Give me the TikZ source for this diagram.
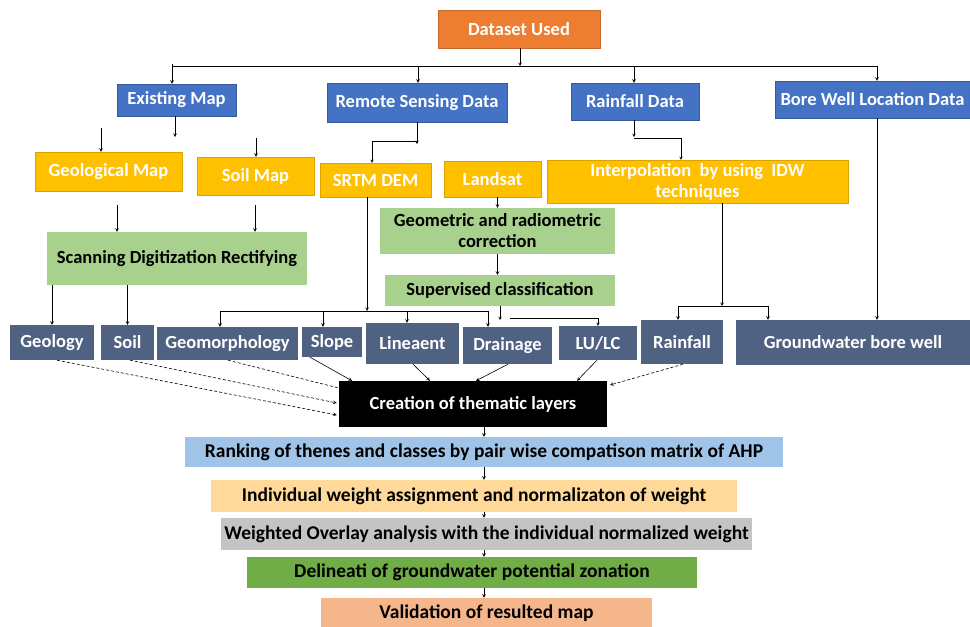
\documentclass[tikz,border=0pt]{standalone}
\usepackage{fontspec}
\setmainfont{Carlito}
\usepackage{tikz}
\usetikzlibrary{arrows, positioning, calc}
\usepackage{xcolor}
\definecolor{dsorange}{RGB}{237,125,49}
\definecolor{dsblue}{RGB}{68,114,196}
\definecolor{dsyellow}{RGB}{255,192,0}
\definecolor{dsgreen}{RGB}{169,209,142}
\definecolor{dsslate}{RGB}{79,98,130}
\definecolor{dslblue}{RGB}{160,196,232}
\definecolor{dspeach}{RGB}{255,217,153}
\definecolor{dsgray}{RGB}{196,196,196}
\definecolor{dsdgreen}{RGB}{112,173,71}
\definecolor{dssalmon}{RGB}{246,182,140}
\tikzstyle{box} = [rectangle, inner sep=2pt, align=center, font=\fontsize{18.5}{21}\selectfont\bfseries]
\tikzstyle{top} = [box, fill=dsorange, draw=dsorange!85!black, text=white]
\tikzstyle{src} = [box, fill=dsblue, draw=dsblue!80!black, text=white]
\tikzstyle{inp} = [box, fill=dsyellow, draw=dsyellow!85!black, text=white]
\tikzstyle{proc} = [box, fill=dsgreen, text=black]
\tikzstyle{layer} = [box, fill=dsslate, text=white]
\tikzstyle{step1} = [box, text=black, font=\fontsize{19.5}{22}\selectfont\bfseries]
\tikzstyle{arrow} = [line width=0.6pt, ->, >=stealth]
\tikzstyle{darrow} = [arrow, densely dashed]

\begin{document}
\begin{tikzpicture}[x=1pt, y=-1pt]
    \useasboundingbox (0,0) rectangle (970,627);
    % Nodes
    \node (ds) [top, minimum width=162pt, minimum height=38pt] at (519,29) {Dataset Used};

    \node (exist) [src, minimum width=119pt, minimum height=32pt] at (176.5,100) {Existing Map};
    \node (rs) [src, minimum width=180pt, minimum height=39pt] at (417,102.5) {Remote Sensing Data};
    \node (rain) [src, minimum width=128pt, minimum height=37pt] at (635,101.5) {Rainfall Data};
    \node (bore) [src, minimum width=195pt, minimum height=37pt] at (872.5,99.5) {Bore Well Location Data};

    \node (geomap) [inp, minimum width=147pt, minimum height=39pt] at (108.5,171.5) {Geological Map};
    \node (soilmap) [inp, minimum width=117pt, minimum height=38pt] at (255.5,176) {Soil Map};
    \node (srtm) [inp, minimum width=111pt, minimum height=34pt] at (375.5,180) {SRTM DEM};
    \node (land) [inp, minimum width=97pt, minimum height=36pt] at (492.5,179) {Landsat};
    \node (idw) [inp, minimum width=301pt, minimum height=43pt] at (697.5,181.5) {Interpolation~ by using~ IDW\\techniques};

    \node (geom) [proc, minimum width=235pt, minimum height=46pt] at (497.5,231) {Geometric and radiometric\\correction};
    \node (sup) [proc, minimum width=230pt, minimum height=31pt] at (500,290.5) {Supervised classification};
    \node (scan) [proc, minimum width=260pt, minimum height=53pt] at (177,258.5) {Scanning Digitization Rectifying};

    \node (geology) [layer, minimum width=84pt, minimum height=35pt] at (52,342.5) {Geology};
    \node (soil) [layer, minimum width=53pt, minimum height=35pt] at (127.5,342.5) {Soil};
    \node (geomor) [layer, minimum width=141pt, minimum height=33pt] at (227.5,343.5) {Geomorphology};
    \node (slope) [layer, minimum width=60pt, minimum height=30pt] at (332,342) {Slope};
    \node (linea) [layer, minimum width=93pt, minimum height=41pt] at (412.5,343.5) {Lineaent};
    \node (drain) [layer, minimum width=89pt, minimum height=37pt] at (507.5,345.5) {Drainage};
    \node (lulc) [layer, minimum width=78pt, minimum height=34pt] at (598,343) {LU/LC};
    \node (rainl) [layer, minimum width=82pt, minimum height=44pt] at (682,342) {Rainfall};
    \node (gw) [layer, minimum width=234pt, minimum height=45pt] at (853,342.5) {Groundwater bore well};

    \node (create) [box, fill=black, text=white, minimum width=268pt, minimum height=46pt] at (473,404) {Creation of thematic layers};

    \node (rank) [step1, fill=dslblue, minimum width=598pt, minimum height=30pt] at (484,452) {Ranking of thenes and classes by pair wise compatison matrix of AHP};
    \node (indiv) [step1, fill=dspeach, minimum width=526pt, minimum height=32pt] at (474,496) {Individual weight assignment and normalizaton of weight};
    \node (wov) [step1, fill=dsgray, minimum width=531pt, minimum height=32pt] at (486.5,534) {Weighted Overlay analysis with the individual normalized weight};
    \node (delin) [step1, fill=dsdgreen, minimum width=450pt, minimum height=31pt] at (472,572.5) {Delineati of groundwater potential zonation};
    \node (valid) [step1, fill=dssalmon, minimum width=331pt, minimum height=30pt] at (486.5,613) {Validation of resulted map};

    % Joints
    \coordinate (bus) at (520,66);
    \coordinate (e1) at (101,128);
    \coordinate (e2) at (175,137);
    \coordinate (e3) at (256,138);
    \coordinate (rsj) at (417,141);
    \coordinate (rj) at (681,138);
    \coordinate (g1) at (117,205);
    \coordinate (s1) at (255,205);
    \coordinate (sj) at (367,311);
    \coordinate (lj) at (510,318);
    \coordinate (ij) at (722,306);

    % Arrows
    \draw [arrow] (ds.south -| bus) -- (bus);
    \draw [line width=0.6pt] (172,66) -- (877,66);
    \draw [arrow] (172,64) -- (172,0 |- exist.north);
    \foreach \x/\n in {418/rs, 634/rain, 877/bore}
        \draw [arrow] (\x,66) -- (\x,0 |- \n.north);

    \draw [arrow] (e2 |- exist.south) -- (e2);
    \draw [arrow] (e1) -- (e1 |- geomap.north);
    \draw [arrow] (e3) -- (e3 |- soilmap.north);
    \draw [arrow] (g1) -- (g1 |- scan.north);
    \draw [arrow] (s1) -- (s1 |- scan.north);
    \draw [arrow] (scan.south -| geology.north) -- (geology.north);
    \draw [arrow] (scan.south -| soil.north) -- (soil.north);

    \draw [arrow] (rsj |- rs.south) -- ++(0,22);
    \draw [arrow, line width=0.4pt] (rsj) -| (372,0 |- srtm.north);
    \draw [arrow] (geom.north |- land.south) -- (geom.north);
    \draw [arrow] (geom.south) -- (geom.south |- sup.north);

    \draw [arrow] (rain.south -| rj) ++(-47,0) -- ++(0,17);
    \draw [arrow, line width=0.4pt] (634,138) -- (rj) -- (rj |- idw.north);

    \draw [arrow] (sj |- srtm.south) -- (sj);
    \draw [line width=0.4pt] (220,311) -- (488,311);
    \foreach \x/\n in {220/geomor, 323/slope, 407/linea, 488/drain}
        \draw [arrow] (\x,311) -- (\x,0 |- \n.north);
    \draw [arrow] (sup.south) -- ++(0,14);
    \draw [arrow, line width=0.4pt] (lj) -| (lulc.north);

    \draw [arrow] (ij |- idw.south) -- (ij);
    \draw [line width=0.4pt] (678,306) -- (768,306);
    \draw [arrow] (678,306) -- (678,0 |- rainl.north);
    \draw [arrow] (768,306) -- (768,0 |- gw.north);
    \draw [arrow] (877,0 |- bore.south) -- (877,0 |- gw.north);

    \draw [darrow] (57,0 |- geology.south) -- ($(create.west)+(-2,11)$);
    \draw [darrow] (130,0 |- soil.south) -- ($(create.west)+(-2,-1)$);
    \draw [line width=0.6pt, densely dashed] (228,0 |- geomor.south) -- ($(create.west)+(0,-16)$);
    \draw [arrow] (310,0 |- slope.south) -- (352,0 |- create.north);
    \draw [arrow] (413,0 |- linea.south) -- (430,0 |- create.north);
    \draw [arrow] (508,0 |- drain.south) -- (476,0 |- create.north);
    \draw [arrow] (597,0 |- lulc.south) -- (577,0 |- create.north);
    \draw [darrow] (683,0 |- rainl.south) -- (610,385);

    \foreach \a/\b in {create/rank, rank/indiv, indiv/wov, wov/delin, delin/valid}
        \draw [arrow] (484,0 |- \a.south) -- (484,0 |- \b.north);
\end{tikzpicture}
\end{document}
